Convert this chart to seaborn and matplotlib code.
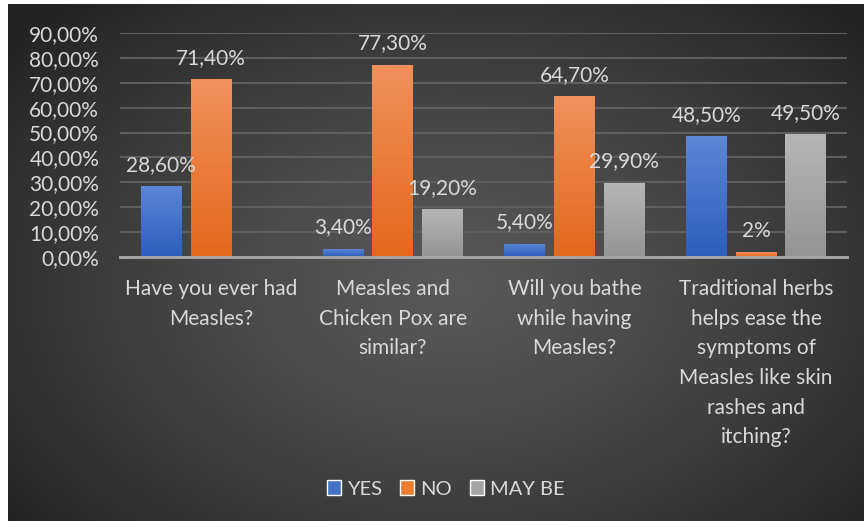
import numpy as np
import pandas as pd
import matplotlib
matplotlib.use("Agg")
import matplotlib.pyplot as plt
import seaborn as sns
from matplotlib.colors import LinearSegmentedColormap
from matplotlib.patches import Patch

# Veriler
kategoriler = [
    "Have you ever had\nMeasles?",
    "Measles and\nChicken Pox are\nsimilar?",
    "Will you bathe\nwhile having\nMeasles?",
    "Traditional herbs\nhelps ease the\nsymptoms of\nMeasles like skin\nrashes and\nitching?",
]
cevaplar = ["YES", "NO", "MAY BE"]
yes_vals = [28.6, 3.4, 5.4, 48.5]
no_vals = [71.4, 77.3, 64.7, 2]
maybe_vals = [0, 19.2, 29.9, 49.5]
y_ticks = [0, 10, 20, 30, 40, 50, 60, 70, 80, 90]

renkler = {"YES": "#4472c4", "NO": "#ed7d31", "MAY BE": "#a5a5a5"}
gradyanlar = {
    "YES": ("#5c86d6", "#2d5ebe"),
    "NO": ("#f2905c", "#e3681a"),
    "MAY BE": ("#b6b6b6", "#949494"),
}
yazi_renk = "#d9d9d9"
fs = 15

df = pd.DataFrame({
    "Soru": kategoriler * 3,
    "Cevap": [c for c in cevaplar for _ in kategoriler],
    "Deger": yes_vals + no_vals + maybe_vals,
})


def yuzde(v):
    if isinstance(v, int):
        return f"{v}%"
    return f"{v:.2f}".replace(".", ",") + "%"


sns.set_style("white")
plt.rcParams["font.family"] = ["Lato", "DejaVu Sans"]

W, H = 864, 521
fig = plt.figure(figsize=(W / 100, H / 100), dpi=100)
fig.patch.set_facecolor("white")

# Arka plan: radyal gradyan
bg = fig.add_axes([8 / W, 0, (W - 8) / W, (H - 4) / H])
yy, xx = np.mgrid[0:517, 0:856]
d = np.sqrt(((xx - 440) / 560) ** 2 + ((yy - 280) / 380) ** 2)
d = np.clip(d, 0, 1)
val = (88 - (88 - 36) * d ** 1.3) / 255
bg.imshow(np.dstack([val, val, val]), aspect="auto", extent=[0, 1, 0, 1])
bg.set_axis_off()

ax = fig.add_axes([120 / W, 1 - 257 / H, 727 / W, 224 / H])
ax.set_facecolor("none")

sns.barplot(data=df, x="Soru", y="Deger", hue="Cevap", palette=renkler,
            width=0.82, gap=0.18, ax=ax, zorder=3, legend=False,
            linewidth=0, edgecolor="none")

# Çubuklara dikey gradyan
for cont, c in zip(ax.containers, cevaplar):
    cmap = LinearSegmentedColormap.from_list(c, [gradyanlar[c][1], gradyanlar[c][0]])
    for p in cont:
        x0, w, h = p.get_x(), p.get_width(), p.get_height()
        if h <= 0:
            continue
        grad = np.linspace(0, 1, 100).reshape(-1, 1)
        im = ax.imshow(grad, cmap=cmap, origin="lower", aspect="auto",
                       extent=[x0, x0 + w, 0, h], zorder=3.5)
        im.set_clip_path(p)

for cont, c in zip(ax.containers, cevaplar):
    vals = {"YES": yes_vals, "NO": no_vals, "MAY BE": maybe_vals}[c]
    etiket = [yuzde(v) if v != 0 else "" for v in vals]
    ax.bar_label(cont, labels=etiket, padding=8, color=yazi_renk, fontsize=fs, zorder=5)

ax.set_xlim(-0.5, 3.5)
ax.set_ylim(0, 90)
ax.set_yticks(y_ticks)
ax.set_yticklabels([yuzde(float(t)) for t in y_ticks])
ax.set_xlabel("")
ax.set_ylabel("")
ax.tick_params(axis="y", length=0, pad=15, labelsize=fs, labelcolor=yazi_renk)
ax.tick_params(axis="x", length=0, pad=16, labelsize=fs, labelcolor=yazi_renk)
for t in ax.get_xticklabels():
    t.set_linespacing(1.6)

ax.grid(axis="y", color="#5e5e5e", linewidth=1.5, zorder=0)
ax.set_axisbelow(True)
for s in ["top", "right", "left"]:
    ax.spines[s].set_visible(False)
ax.spines["bottom"].set_color("#a9a9a9")
ax.spines["bottom"].set_linewidth(2)
ax.spines["bottom"].set_zorder(6)

tutamak = [Patch(facecolor=renkler[c], label=c) for c in cevaplar]
fig.legend(handles=tutamak, loc="center", bbox_to_anchor=(446 / W, 1 - 489 / H),
           ncol=3, frameon=False, fontsize=14.5, labelcolor=yazi_renk,
           handlelength=0.7, handleheight=0.7, handletextpad=0.3, columnspacing=0.9)

fig.savefig("out.png", dpi=100)
